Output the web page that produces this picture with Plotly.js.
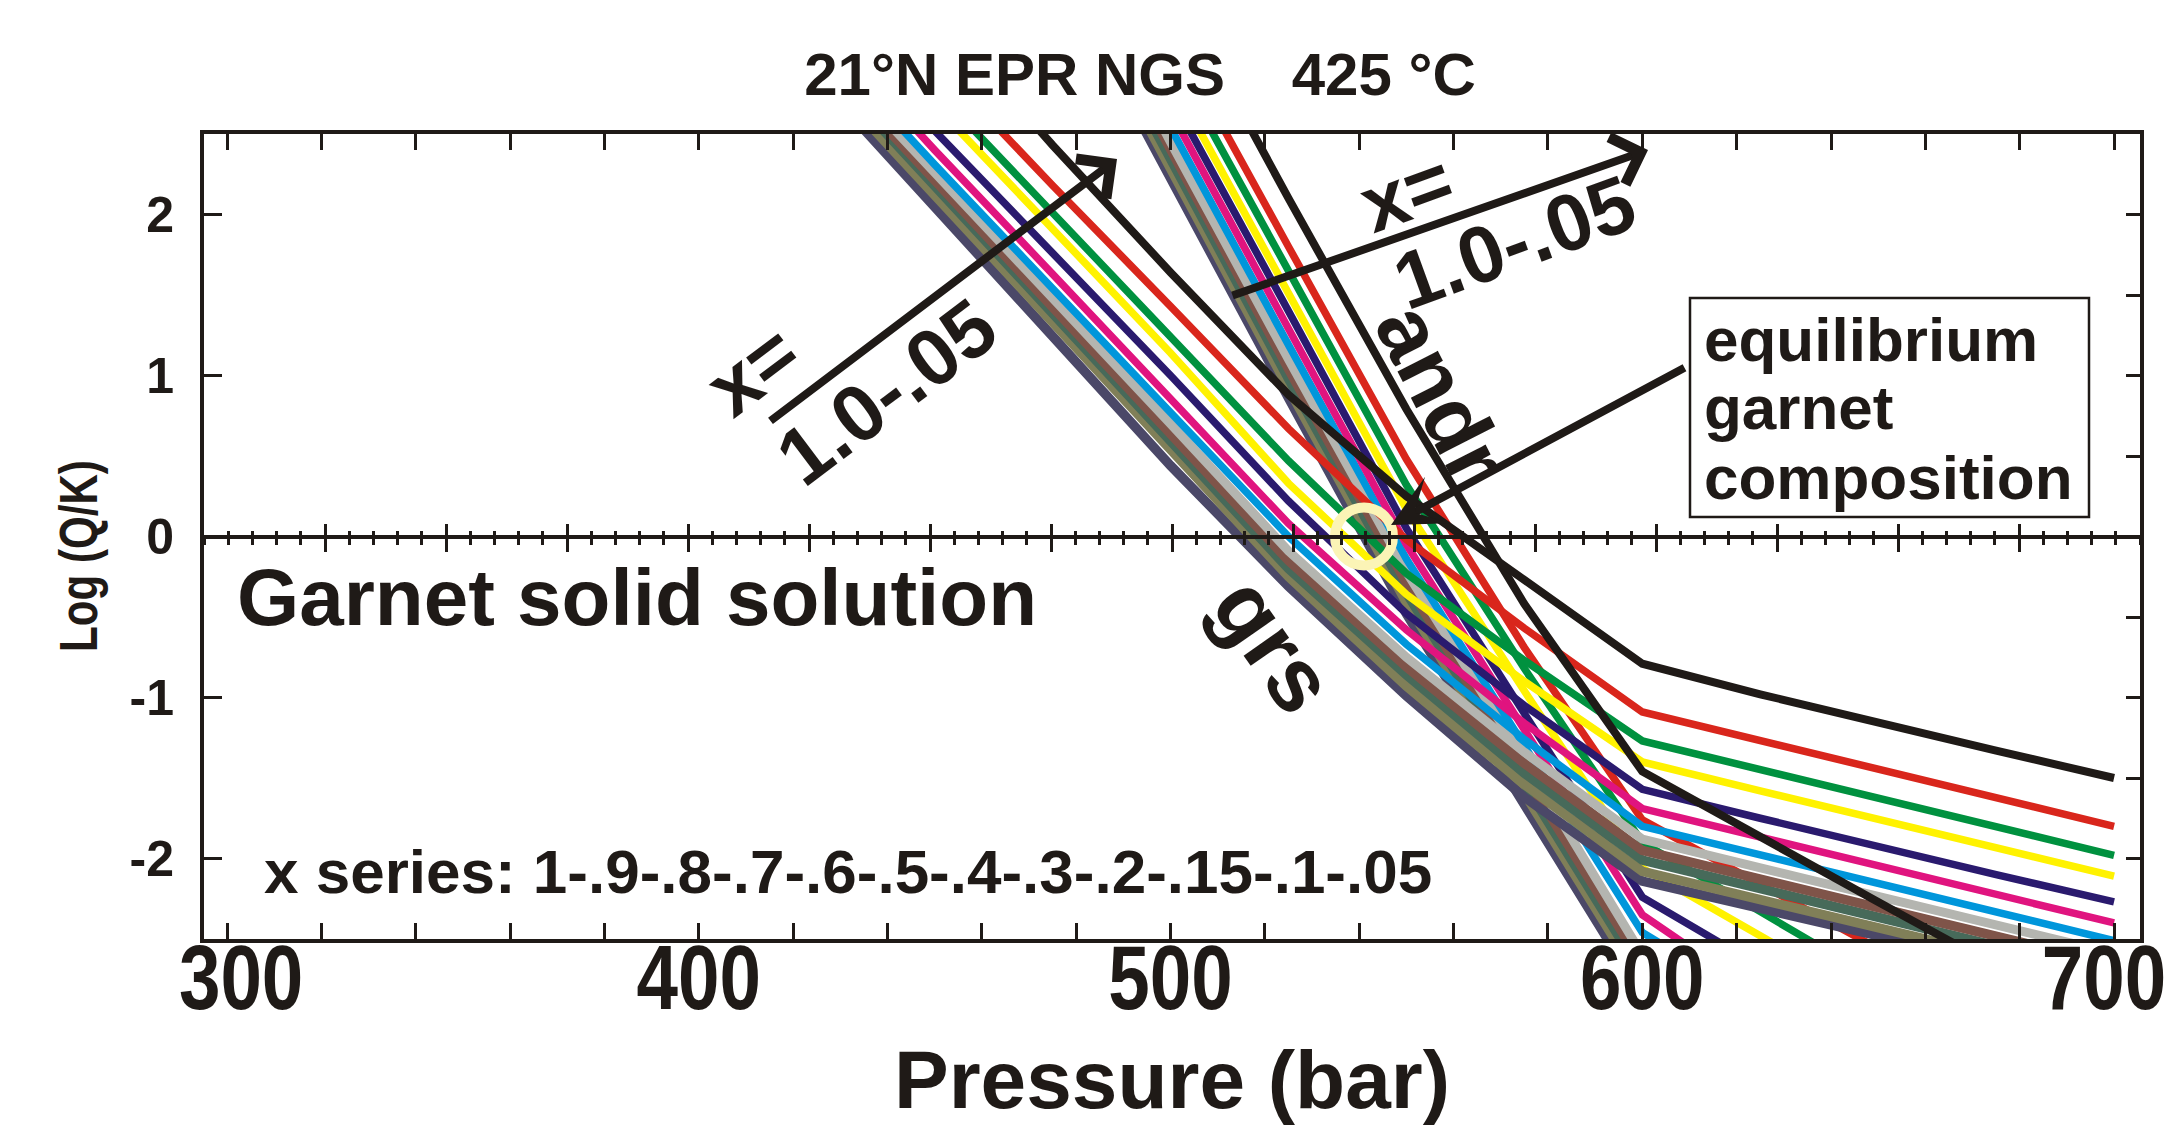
<!DOCTYPE html>
<html><head><meta charset="utf-8">
<script src="https://cdn.plot.ly/plotly-3.0.1.min.js"></script>
<style>html,body{margin:0;padding:0;background:#fff}</style>
</head><body>
<div id="chart" style="width:2172px;height:1137px"></div>
<script>
// ---------------- DATA ----------------
const pressure = [425, 450, 475, 500, 525, 550, 575, 600, 625, 650, 675, 700];
const xSeries = ['1', '.9', '.8', '.7', '.6', '.5', '.4', '.3', '.2', '.15', '.1', '.05'];

// grossular (grs) branch, Log(Q/K) at each pressure
const grs_1   = [null, 3.26, 2.43, 1.64, 0.88, 0.25, -0.27, -0.79, -0.98, -1.16, -1.33, -1.50];
const grs_09  = [null, 2.95, 2.18, 1.43, 0.67, -0.02, -0.57, -1.09, -1.27, -1.45, -1.63, -1.80];
const grs_08  = [null, 2.78, 2.01, 1.25, 0.47, -0.23, -0.77, -1.27, -1.45, -1.63, -1.81, -1.98];
const grs_07  = [null, 2.68, 1.91, 1.14, 0.33, -0.36, -0.90, -1.40, -1.58, -1.76, -1.94, -2.11];
const grs_06  = [3.30, 2.52, 1.76, 1.00, 0.22, -0.48, -1.05, -1.57, -1.75, -1.93, -2.10, -2.27];
const grs_05  = [3.20, 2.40, 1.63, 0.86, 0.08, -0.58, -1.16, -1.69, -1.87, -2.05, -2.23, -2.40];
const grs_04  = [3.10, 2.31, 1.54, 0.77, 0.00, -0.67, -1.26, -1.80, -1.98, -2.16, -2.34, -2.51];
const grs_03  = [3.04, 2.25, 1.48, 0.70, -0.09, -0.75, -1.34, -1.88, -2.06, -2.24, -2.42, -2.59];
const grs_02  = [3.00, 2.21, 1.44, 0.64, -0.15, -0.81, -1.41, -1.95, -2.13, -2.31, -2.49, -2.66];
const grs_015 = [2.97, 2.18, 1.40, 0.60, -0.20, -0.86, -1.47, -2.01, -2.19, -2.37, -2.55, -2.72];
const grs_01  = [2.91, 2.12, 1.33, 0.52, -0.25, -0.93, -1.54, -2.08, -2.25, -2.43, -2.60, -2.78];
const grs_005 = [2.85, 2.05, 1.26, 0.44, -0.31, -0.99, -1.62, -2.14, -2.31, -2.48, -2.65, -2.82];

// andradite (andr) branch, Log(Q/K) at each pressure
const andr_1   = [null, null, 4.80, 3.46, 2.10, 0.79, -0.42, -1.46, -1.87, -2.27, -2.67, null];
const andr_09  = [null, null, 4.51, 3.13, 1.80, 0.48, -0.69, -1.76, -2.16, -2.56, null, null];
const andr_08  = [null, null, 4.36, 2.98, 1.65, 0.32, -0.82, -1.90, -2.33, -2.76, null, null];
const andr_07  = [null, null, 4.23, 2.85, 1.51, 0.17, -0.96, -2.06, -2.48, -2.90, null, null];
const andr_06  = [null, null, 4.12, 2.74, 1.40, 0.05, -1.10, -2.24, -2.67, null, null, null];
const andr_05  = [null, null, 4.02, 2.64, 1.29, -0.05, -1.20, -2.35, -2.85, null, null, null];
const andr_04  = [null, null, 3.92, 2.54, 1.19, -0.14, -1.30, -2.46, -2.90, null, null, null];
const andr_03  = [null, null, 3.83, 2.45, 1.10, -0.22, -1.39, -2.60, null, null, null, null];
const andr_02  = [null, null, 3.77, 2.39, 1.04, -0.29, -1.47, -2.66, null, null, null, null];
const andr_015 = [null, null, 3.71, 2.33, 0.98, -0.35, -1.53, -2.72, null, null, null, null];
const andr_01  = [null, null, 3.65, 2.27, 0.92, -0.41, -1.60, -2.78, null, null, null, null];
const andr_005 = [null, null, 3.59, 2.21, 0.86, -0.48, -1.68, -2.85, null, null, null, null];

// equilibrium garnet composition point
const eqPressure = [541];
const eqLogQK = [0];

// tick labels
const xTickVals = [300, 400, 500, 600, 700];
const xTickText = ['300', '400', '500', '600', '700'];
const yTickVals = [-2, -1, 0, 1, 2];
const yTickText = ['-2', '-1', '0', '1', '2'];

// ---------------- STYLE ----------------
const grsSeries  = [grs_1, grs_09, grs_08, grs_07, grs_06, grs_05, grs_04, grs_03, grs_02, grs_015, grs_01, grs_005];
const andrSeries = [andr_1, andr_09, andr_08, andr_07, andr_06, andr_05, andr_04, andr_03, andr_02, andr_015, andr_01, andr_005];
const colors = ['#1f1a17', '#d9261c', '#00913f', '#fff200', '#2a1a6e', '#e0147f',
                '#0096db', '#b4b5b0', '#7f5449', '#476a5a', '#807f58', '#4b4868'];
const widths = [8, 7.5, 7.5, 7.5, 7.5, 7.5, 7.5, 9, 9.5, 9.5, 9.5, 9.5];

const traces = [];
function addLine(vals, i, branch) {
  traces.push({
    x: pressure, y: vals, type: 'scatter', mode: 'lines',
    name: branch + ' x=' + xSeries[i],
    line: {color: colors[i], width: widths[i], shape: 'linear'},
    connectgaps: false, hoverinfo: 'skip', showlegend: false
  });
}
for (let i = 11; i >= 1; i--) addLine(andrSeries[i], i, 'andr');
for (let i = 11; i >= 1; i--) addLine(grsSeries[i], i, 'grs');
addLine(andrSeries[0], 0, 'andr');
addLine(grsSeries[0], 0, 'grs');

traces.push({
  x: eqPressure, y: eqLogQK, type: 'scatter', mode: 'markers', name: 'equilibrium',
  marker: {symbol: 'circle-open', size: 58, color: '#fbf4b6', line: {width: 10, color: '#fbf4b6'}},
  hoverinfo: 'skip', showlegend: false
});
// dummy traces to activate helper axes
traces.push({x: [0], y: [0], xaxis: 'x2', yaxis: 'y', mode: 'lines', showlegend: false, hoverinfo: 'skip'});
traces.push({x: [0], y: [0], xaxis: 'x3', yaxis: 'y', mode: 'lines', showlegend: false, hoverinfo: 'skip'});
traces.push({x: [300], y: [0], xaxis: 'x', yaxis: 'y2', mode: 'lines', showlegend: false, hoverinfo: 'skip'});

// pixel -> paper helpers for annotation placement
const L = 204, R = 2140, T = 134, B = 939;
const px = v => (v - L) / (R - L);
const py = v => (B - v) / (B - T);

const FONT = 'Liberation Sans, Arial, Helvetica, sans-serif';
const INK = '#1f1a17';
function txt(text, x, y, size, angle, anchor) {
  return {text: text, xref: 'paper', yref: 'paper', x: px(x), y: py(y), showarrow: false,
          textangle: angle || 0, xanchor: anchor || 'center', yanchor: 'middle',
          font: {family: FONT, size: size, color: INK, weight: 'bold'}};
}
function arrow(hx, hy, tx, ty, head, size) {
  return {text: '', xref: 'paper', yref: 'paper', x: px(hx), y: py(hy),
          ax: tx - hx, ay: ty - hy, showarrow: true, arrowhead: head, arrowsize: size,
          arrowwidth: 8, arrowcolor: INK};
}

const annotations = [
  txt('Log (Q/K)', 78, 556, 54, -90),
  txt('Garnet solid solution', 235, 597, 80, 0, 'left'),
  txt('x series: 1-.9-.8-.7-.6-.5-.4-.3-.2-.15-.1-.05', 262, 871, 62, 0, 'left'),
  txt('grs', 1274, 645, 90, 55),
  txt('andr', 1442, 393, 86, 63),
  txt('x=', 752, 370, 80, -37),
  txt('1.0-.05', 886, 392, 80, -37),
  txt('x=', 1406, 192, 80, -20),
  txt('1.0-.05', 1514, 242, 80, -20),
  arrow(1117, 159, 769, 422, 4, 1.2),
  arrow(1648, 150, 1231, 296, 4, 1.2),
  arrow(1391, 525, 1686, 367, 3, 1.1),
  txt('equilibrium', 1702, 339, 62, 0, 'left'),
  txt('garnet', 1702, 408, 62, 0, 'left'),
  txt('composition', 1702, 477, 62, 0, 'left')
];

const shapes = [
  {type: 'rect', xref: 'paper', yref: 'paper', x0: px(1690), x1: px(2089), y0: py(298), y1: py(517),
   line: {color: INK, width: 2.5}, fillcolor: 'rgba(0,0,0,0)', layer: 'above'}
];

const layout = {
  width: 2172, height: 1137,
  margin: {l: L, r: 2172 - R, t: T, b: 1137 - B, autoexpand: false},
  paper_bgcolor: '#ffffff', plot_bgcolor: '#ffffff',
  showlegend: false,
  title: {text: '21°N EPR NGS\u00a0\u00a0\u00a0\u00a0425 °C', x: 1140 / 2172, xref: 'container', xanchor: 'center',
          y: 1 - 74 / 1137, yref: 'container', yanchor: 'middle',
          font: {family: FONT, size: 60, color: INK, weight: 'bold'}},
  xaxis: {
    range: [295.1, 705.5], tickvals: xTickVals, ticktext: xTickText,
    ticks: 'inside', ticklen: 16, tickwidth: 3, tickcolor: INK, ticklabelstandoff: -43,
    ticklabeloverflow: 'allow',
    minor: {dtick: 20, tick0: 300, ticks: 'inside', ticklen: 7, tickwidth: 3, tickcolor: INK, showgrid: false},
    showline: true, linewidth: 4, linecolor: INK, mirror: 'allticks',
    showgrid: false, zeroline: false, automargin: false,
    tickfont: {family: FONT, size: 91, color: INK, weight: 'bold'},
    title: {text: 'Pressure (bar)', standoff: 24,
            font: {family: FONT, size: 82, color: INK, weight: 'bold'}}
  },
  xaxis2: {overlaying: 'x', anchor: 'free', position: 0.5, side: 'bottom', range: [0, 80],
    tickvals: [5,10,15,20,25,30,35,40,45,50,55,60,65,70,75], ticks: 'outside', ticklen: 13, tickwidth: 3, tickcolor: INK,
    minor: {dtick: 1, tick0: 0, ticks: 'outside', ticklen: 6, tickwidth: 3, tickcolor: INK, showgrid: false},
    showticklabels: false, showline: true, linewidth: 4, linecolor: INK, showgrid: false, zeroline: false},
  xaxis3: {overlaying: 'x', anchor: 'free', position: 0.5, side: 'bottom', range: [0, 80],
    tickvals: [5,10,15,20,25,30,35,40,45,50,55,60,65,70,75], ticks: 'inside', ticklen: 13, tickwidth: 3, tickcolor: INK,
    minor: {dtick: 1, tick0: 0, ticks: 'inside', ticklen: 6, tickwidth: 3, tickcolor: INK, showgrid: false},
    showticklabels: false, showline: false, showgrid: false, zeroline: false},
  yaxis: {
    range: [-2.5, 2.5], tickvals: yTickVals, ticktext: yTickText,
    ticks: 'inside', ticklen: 18, tickwidth: 3, tickcolor: INK, ticklabelstandoff: 16,
    showline: true, linewidth: 4, linecolor: INK, mirror: true,
    showgrid: false, zeroline: false, automargin: false,
    tickfont: {family: FONT, size: 50, color: INK, weight: 'bold'}
  },
  yaxis2: {overlaying: 'y', side: 'right', anchor: 'x', range: [-2.5, 2.5], dtick: 0.5, tick0: 0,
    ticks: 'inside', ticklen: 14, tickwidth: 3, tickcolor: INK, showticklabels: false,
    showline: false, showgrid: false, zeroline: false},
  annotations: annotations,
  shapes: shapes
};

Plotly.newPlot('chart', traces, layout, {displayModeBar: false, staticPlot: true}).then(() => {
  // condensed look of the bottom tick numerals (first and last nudged inward as in the original)
  const nudge = {'300': 14, '700': -10};
  document.querySelectorAll('g.xtick > text').forEach(t => {
    const tr = t.getAttribute('transform') || '';
    const dx = nudge[t.textContent] || 0;
    t.setAttribute('transform', tr + ' translate(' + dx + ',0) scale(0.82,1)');
  });
  // condensed y-axis label
  document.querySelectorAll('text.annotation-text').forEach(t => {
    if (t.textContent === 'Log (Q/K)') {
      const cx = parseFloat(t.getAttribute('x')) || 0;
      t.setAttribute('transform', 'translate(' + cx + ',0) scale(0.78,1) translate(' + (-cx) + ',0)');
    }
  });
});
</script>
</body></html>
